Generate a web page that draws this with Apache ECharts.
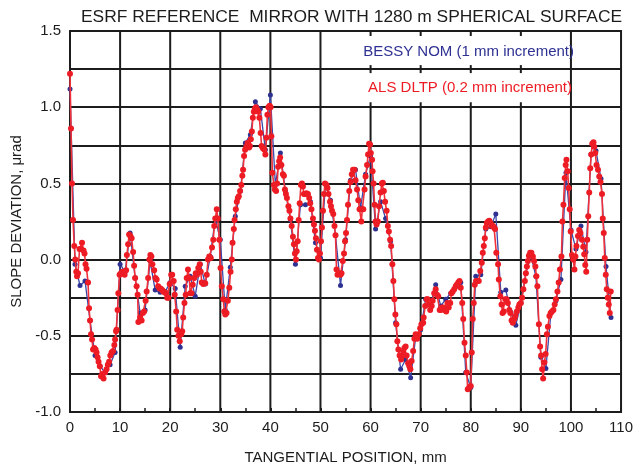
<!DOCTYPE html>
<html>
<head>
<meta charset="utf-8">
<script src="https://cdn.jsdelivr.net/npm/echarts/dist/echarts.min.js"></script>
<style>
  html, body { margin: 0; padding: 0; background: #fff; }
  #chart { width: 636px; height: 470px; }
</style>
</head>
<body>
<div id="chart"></div>
<script>
// BESSY NOM, one point per mm
var bessyX = [];
for (var i = 0; i <= 108; i++) bessyX.push(i);
var bessyY = [
  1.12, -0.03, -0.17, -0.14, -0.40, -0.63, -0.70, -0.74, -0.69, -0.61,
  -0.03, -0.08, 0.175, -0.12, -0.35, -0.33, -0.01, -0.20, -0.215, -0.21,
  -0.15, -0.19, -0.575, -0.175, -0.11, -0.24, -0.03, -0.16, 0.02, 0.27,
  0.13, -0.33, -0.05, 0.285, 0.45, 0.765, 0.82, 1.035, 0.99, 0.72,
  1.08, 0.49, 0.70, 0.45, 0.26, -0.03, 0.36, 0.36, 0.38, 0.11,
  0.01, 0.50, 0.39, 0.16, -0.17, 0.13, 0.52, 0.59, 0.34, 0.56,
  0.68, 0.20, 0.38, 0.27, 0.12, -0.415, -0.72, -0.655, -0.775, -0.51,
  -0.46, -0.26, -0.295, -0.165, -0.305, -0.26, -0.22, -0.175, -0.15, -0.74,
  -0.84, -0.11, -0.10, 0.20, 0.215, 0.30, -0.215, -0.20, -0.345, -0.43,
  -0.285, -0.09, 0.03, -0.11, -0.64, -0.715, -0.35, -0.27, -0.13, 0.57,
  0.195, 0.07, 0.22, 0.05, 0.69, 0.715, 0.53, -0.045, -0.38
];

// ALS DLTP, [position mm, slope urad]
var alsData = [
  [0,1.22],[0.2,0.86],[0.4,0.50],[0.6,0.26],[0.85,0.09],[1.05,0.0],[1.25,-0.08],[1.4,-0.11],[1.6,-0.09],
  [1.9,0.07],[2.2,0.07],[2.4,0.11],[2.7,0.06],[2.9,0.04],[3.1,-0.03],[3.3,-0.06],[3.6,-0.15],[3.8,-0.32],
  [4.0,-0.40],[4.2,-0.49],[4.4,-0.525],[4.6,-0.59],[4.85,-0.58],[5.1,-0.59],[5.3,-0.61],[5.5,-0.64],
  [5.7,-0.67],[5.95,-0.70],[6.2,-0.765],[6.45,-0.75],[6.7,-0.78],[7.0,-0.74],[7.3,-0.72],[7.55,-0.69],
  [7.8,-0.67],[8.05,-0.63],[8.3,-0.61],[8.6,-0.60],[8.85,-0.56],[9.0,-0.525],[9.2,-0.47],[9.3,-0.46],
  [9.5,-0.33],[9.65,-0.22],[9.9,-0.10],[10.15,-0.09],[10.45,-0.08],[10.65,-0.08],[10.9,-0.10],[11.2,-0.07],
  [11.35,0.03],[11.6,0.10],[11.8,0.165],[12.05,0.155],[12.3,0.14],[12.6,0.05],[12.8,-0.04],[13.0,-0.12],
  [13.3,-0.175],[13.5,-0.23],[13.65,-0.41],[14.0,-0.38],[14.3,-0.40],[14.55,-0.35],[14.8,-0.34],[15.1,-0.27],
  [15.3,-0.21],[15.6,-0.12],[15.85,0.0],[16.05,0.03],[16.25,0.02],[16.45,-0.03],[16.8,-0.07],[17.05,-0.12],
  [17.3,-0.13],[17.6,-0.175],[17.85,-0.19],[18.1,-0.19],[18.4,-0.20],[18.6,-0.21],[18.9,-0.215],[19.15,-0.22],
  [19.4,-0.25],[19.65,-0.25],[19.9,-0.16],[20.2,-0.10],[20.4,-0.10],[20.7,-0.14],[20.9,-0.23],[21.2,-0.34],
  [21.4,-0.46],[21.65,-0.50],[21.9,-0.535],[22.2,-0.49],[22.4,-0.47],[22.6,-0.38],[22.85,-0.285],[23.1,-0.23],
  [23.3,-0.12],[23.55,-0.065],[23.8,-0.12],[24.0,-0.22],[24.25,-0.22],[24.5,-0.165],[24.8,-0.12],[25.1,-0.09],
  [25.35,-0.10],[25.6,-0.055],[25.9,-0.03],[26.1,-0.08],[26.3,-0.15],[26.6,-0.16],[27.0,-0.155],[27.3,-0.10],
  [27.55,0.0],[27.8,0.02],[28.1,0.01],[28.35,0.08],[28.6,0.13],[28.8,0.22],[29.0,0.27],[29.3,0.33],
  [29.5,0.27],[29.8,0.13],[30.05,-0.055],[30.3,-0.175],[30.6,-0.26],[30.8,-0.34],[31.0,-0.36],[31.25,-0.35],
  [31.5,-0.27],[31.8,-0.185],[32.05,-0.08],[32.3,0.0],[32.45,0.11],[32.7,0.20],[32.85,0.26],[33.1,0.33],
  [33.3,0.38],[33.5,0.405],[33.7,0.415],[33.95,0.45],[34.2,0.49],[34.4,0.55],[34.55,0.59],[34.75,0.68],
  [34.95,0.72],[35.2,0.74],[35.45,0.765],[35.6,0.755],[35.75,0.735],[35.9,0.745],[36.1,0.79],[36.3,0.84],
  [36.5,0.93],[36.7,0.97],[36.9,0.99],[37.1,1.0],[37.35,0.985],[37.6,0.97],[37.8,0.93],[38.05,0.83],
  [38.25,0.745],[38.5,0.73],[38.8,0.72],[39.0,0.69],[39.2,0.80],[39.4,0.95],[39.6,1.0],[39.85,1.01],
  [40.05,1.0],[40.2,0.81],[40.4,0.57],[40.7,0.49],[40.9,0.46],[41.15,0.45],[41.35,0.50],[41.55,0.61],
  [41.75,0.645],[41.95,0.67],[42.2,0.62],[42.5,0.56],[42.7,0.55],[42.9,0.46],[43.1,0.43],[43.3,0.405],
  [43.6,0.35],[43.8,0.32],[44.0,0.27],[44.25,0.22],[44.5,0.15],[44.7,0.10],[44.9,0.04],[45.1,0.0],
  [45.25,0.055],[45.45,0.12],[45.65,0.26],[45.85,0.37],[46.1,0.49],[46.3,0.50],[46.5,0.48],[46.7,0.43],
  [46.95,0.43],[47.2,0.435],[47.5,0.43],[47.75,0.405],[47.95,0.37],[48.2,0.33],[48.5,0.27],[48.7,0.23],
  [48.9,0.19],[49.1,0.14],[49.3,0.065],[49.5,0.01],[49.7,0.0],[49.9,0.04],[50.1,0.12],[50.3,0.21],
  [50.5,0.32],[50.7,0.43],[50.9,0.50],[51.2,0.49],[51.4,0.47],[51.6,0.43],[51.9,0.38],[52.1,0.35],
  [52.3,0.32],[52.55,0.30],[52.8,0.22],[53.0,0.16],[53.2,-0.065],[53.4,-0.10],[53.7,-0.09],[54.0,-0.10],
  [54.2,-0.09],[54.45,-0.01],[54.7,0.04],[54.9,0.12],[55.1,0.175],[55.3,0.26],[55.5,0.36],[55.75,0.45],
  [56.0,0.51],[56.25,0.56],[56.5,0.59],[56.8,0.59],[57.0,0.52],[57.3,0.46],[57.55,0.39],[57.8,0.33],
  [58.15,0.25],[58.35,0.33],[58.55,0.33],[58.8,0.46],[59.0,0.545],[59.3,0.62],[59.5,0.69],[59.7,0.76],
  [59.9,0.755],[60.05,0.70],[60.3,0.655],[60.4,0.58],[60.6,0.50],[60.8,0.36],[61.0,0.25],[61.2,0.23],
  [61.45,0.25],[61.7,0.35],[62.0,0.44],[62.25,0.50],[62.45,0.505],[62.65,0.45],[62.9,0.38],[63.2,0.32],
  [63.45,0.22],[63.65,0.185],[63.9,0.13],[64.1,0.09],[64.35,-0.03],[64.55,-0.14],[64.75,-0.26],[64.95,-0.36],
  [65.15,-0.425],[65.35,-0.535],[65.55,-0.59],[65.8,-0.63],[66.1,-0.655],[66.3,-0.63],[66.5,-0.60],[66.75,-0.58],
  [67.0,-0.57],[67.2,-0.63],[67.5,-0.68],[67.75,-0.70],[67.95,-0.72],[68.2,-0.665],[68.5,-0.60],[68.75,-0.52],
  [69.0,-0.49],[69.3,-0.52],[69.6,-0.49],[69.9,-0.45],[70.15,-0.425],[70.5,-0.415],[70.6,-0.38],[70.9,-0.305],
  [71.2,-0.26],[71.4,-0.26],[71.65,-0.295],[71.9,-0.33],[72.2,-0.305],[72.4,-0.27],[72.7,-0.22],[73.0,-0.195],
  [73.25,-0.23],[73.5,-0.24],[73.8,-0.33],[74.05,-0.33],[74.3,-0.315],[74.55,-0.315],[74.8,-0.33],[75.1,-0.34],
  [75.35,-0.285],[75.6,-0.315],[75.9,-0.285],[76.15,-0.22],[76.4,-0.21],[76.7,-0.195],[77.0,-0.175],[77.2,-0.165],
  [77.5,-0.15],[77.75,-0.14],[78.0,-0.185],[78.3,-0.285],[78.5,-0.39],[78.75,-0.545],[79.0,-0.63],[79.2,-0.74],
  [79.4,-0.85],[79.7,-0.84],[80.0,-0.83],[80.2,-0.61],[80.4,-0.39],[80.6,-0.285],[80.8,-0.165],[81.05,-0.14],
  [81.3,-0.14],[81.6,-0.14],[81.9,-0.075],[82.2,-0.02],[82.4,0.045],[82.6,0.09],[82.8,0.14],[83.0,0.21],
  [83.2,0.24],[83.45,0.25],[83.7,0.255],[83.95,0.24],[84.2,0.22],[84.45,0.22],[84.65,0.21],[84.85,0.20],
  [85.1,0.045],[85.45,-0.03],[85.6,-0.13],[85.9,-0.24],[86.15,-0.295],[86.35,-0.35],[86.6,-0.34],[86.9,-0.26],
  [87.15,-0.26],[87.4,-0.285],[87.7,-0.33],[87.9,-0.35],[88.15,-0.40],[88.4,-0.415],[88.7,-0.39],[88.9,-0.37],
  [89.2,-0.34],[89.5,-0.315],[89.7,-0.295],[90.0,-0.285],[90.25,-0.25],[90.5,-0.195],[90.8,-0.14],[91.0,-0.09],
  [91.2,-0.045],[91.4,-0.01],[91.6,0.025],[91.85,0.045],[92.1,0.045],[92.4,0.02],[92.65,-0.01],[92.9,-0.045],
  [93.1,-0.11],[93.3,-0.175],[93.6,-0.425],[93.85,-0.57],[94.05,-0.63],[94.25,-0.72],[94.45,-0.78],[94.7,-0.675],
  [94.95,-0.62],[95.2,-0.49],[95.4,-0.44],[95.7,-0.37],[95.95,-0.35],[96.2,-0.34],[96.5,-0.33],[96.75,-0.295],
  [97.0,-0.26],[97.3,-0.21],[97.55,-0.15],[97.8,-0.065],[98.1,0.02],[98.3,0.25],[98.5,0.36],[98.75,0.535],
  [98.95,0.62],[99.1,0.655],[99.35,0.58],[99.55,0.47],[99.75,0.33],[99.95,0.185],[100.2,0.03],[100.45,0.0],
  [100.7,-0.065],[100.9,0.02],[101.1,0.09],[101.4,0.155],[101.65,0.195],[101.9,0.175],[102.2,0.13],[102.45,0.085],
  [102.65,0.035],[102.85,-0.035],[103.05,-0.08],[103.25,0.13],[103.45,0.285],[103.65,0.44],[103.85,0.60],[104.05,0.69],
  [104.25,0.76],[104.5,0.77],[104.65,0.74],[104.85,0.70],[105.1,0.62],[105.4,0.59],[105.65,0.545],[105.9,0.51],
  [106.2,0.43],[106.35,0.27],[106.55,0.175],[106.75,0.01],[106.95,-0.10],[107.15,-0.195],[107.35,-0.25],[107.55,-0.295],
  [107.75,-0.35],[107.95,-0.21]
];

var xTicks = [0, 10, 20, 30, 40, 50, 60, 70, 80, 90, 100, 110];
var yLabels = [-1.0, -0.5, 0.0, 0.5, 1.0, 1.5];
// inner vertical grid lines, and the legend panel they stop under (x from, x to, y bottom)
var vGrid = [10, 20, 30, 40, 50, 60, 70, 80, 90, 100];
var legendPanel = [50, 100, 1.0];

var FONT = 'Liberation Sans, Arial, sans-serif';
var INK = '#1c1c1c';
var BLUE = '#2e3192';
var RED = '#ed1c24';

var bessyData = bessyX.map(function (x, i) { return [x, bessyY[i]]; });

// vertical grid line; inside the legend panel only short ticks are kept
function renderVGrid(params, api) {
  var x = api.value(0);
  var top = api.coord([x, 1.5]);
  var bot = api.coord([x, -1.0]);
  var stroke = { stroke: INK, lineWidth: 2 };
  if (x <= legendPanel[0] || x >= legendPanel[1]) {
    return { type: 'line', shape: { x1: top[0], y1: top[1], x2: bot[0], y2: bot[1] }, style: stroke };
  }
  var pb = api.coord([x, legendPanel[2]]);
  var pm = api.coord([x, (legendPanel[2] + 1.5) / 2]);
  return {
    type: 'group',
    children: [
      { type: 'line', shape: { x1: pb[0], y1: pb[1] - 5, x2: bot[0], y2: bot[1] }, style: stroke },
      { type: 'line', shape: { x1: pm[0], y1: pm[1] - 4, x2: pm[0], y2: pm[1] + 4 }, style: stroke },
      { type: 'line', shape: { x1: top[0], y1: top[1], x2: top[0], y2: top[1] + 5 }, style: stroke }
    ]
  };
}

var chart = echarts.init(document.getElementById('chart'), null, { renderer: 'canvas' });

var option = {
  animation: false,
  backgroundColor: '#fff',
  title: {
    text: 'ESRF REFERENCE  MIRROR WITH 1280 m SPHERICAL SURFACE',
    left: 76,
    top: 4,
    textStyle: { fontFamily: FONT, fontSize: 17.4, fontWeight: 'normal', color: INK }
  },
  grid: {
    left: 70, right: 10, top: 31, bottom: 58,
    show: true, borderColor: INK, borderWidth: 2
  },
  xAxis: {
    type: 'value',
    min: 0, max: 110, interval: 10,
    name: 'TANGENTIAL POSITION, mm',
    nameLocation: 'middle',
    nameGap: 38,
    nameTextStyle: { fontFamily: FONT, fontSize: 15, color: INK },
    axisLine: { show: true, onZero: false, lineStyle: { color: INK, width: 2 } },
    axisTick: { show: true, inside: true, length: 4, lineStyle: { color: INK, width: 2 } },
    minorTick: { show: true, splitNumber: 2, length: 4, lineStyle: { color: INK, width: 1.5 } },
    axisLabel: {
      margin: 8, fontFamily: FONT, fontSize: 15, color: INK,
      formatter: function (v) { return xTicks.indexOf(v) >= 0 ? String(v) : ''; }
    },
    splitLine: { show: false }
  },
  yAxis: {
    type: 'value',
    min: -1, max: 1.5, interval: 0.25,
    name: 'SLOPE DEVIATION, \u03bcrad',
    nameLocation: 'middle',
    nameGap: 35,
    nameTextStyle: { fontFamily: FONT, fontSize: 15, color: INK },
    axisLine: { show: true, onZero: false, lineStyle: { color: INK, width: 2 } },
    axisTick: { show: false },
    axisLabel: {
      margin: 9, fontFamily: FONT, fontSize: 15, color: INK,
      formatter: function (v) {
        for (var k = 0; k < yLabels.length; k++) {
          if (Math.abs(yLabels[k] - v) < 1e-6) return yLabels[k].toFixed(1);
        }
        return '';
      }
    },
    splitLine: { show: true, lineStyle: { color: INK, width: 2 } }
  },
  graphic: [
    {
      type: 'text', x: 574, y: 52, z: 20,
      style: {
        text: 'BESSY NOM (1 mm increment)', fill: BLUE,
        font: '15px ' + FONT, textAlign: 'right', textVerticalAlign: 'middle'
      }
    },
    {
      type: 'text', x: 572, y: 88, z: 20,
      style: {
        text: 'ALS DLTP (0.2 mm increment)', fill: RED,
        font: '15px ' + FONT, textAlign: 'right', textVerticalAlign: 'middle'
      }
    }
  ],
  series: [
    {
      type: 'custom',
      z: 1,
      silent: true,
      clip: false,
      renderItem: renderVGrid,
      data: vGrid.map(function (x) { return [x, 0]; })
    },
    {
      name: 'BESSY NOM',
      type: 'line',
      z: 3,
      data: bessyData,
      symbol: 'circle',
      symbolSize: 5,
      lineStyle: { color: '#3a46a8', width: 1.3 },
      itemStyle: { color: BLUE }
    },
    {
      name: 'ALS DLTP',
      type: 'line',
      z: 4,
      data: alsData,
      symbol: 'circle',
      symbolSize: 6,
      lineStyle: { color: '#f0313a', width: 1.6 },
      itemStyle: { color: RED }
    }
  ]
};

chart.setOption(option);
</script>
</body>
</html>
